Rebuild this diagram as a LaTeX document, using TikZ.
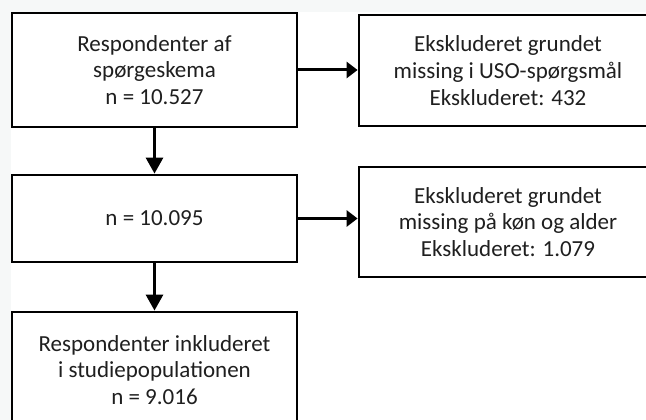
\documentclass[tikz,border=0pt]{standalone}
\usepackage{fontspec}
\setmainfont{Carlito}
\usetikzlibrary{arrows.meta}
\definecolor{bggray}{RGB}{246,248,248}

\begin{document}
\begin{tikzpicture}[
        x=1pt, y=-1pt,
        box/.style={draw, line width=2.8pt, fill=white, align=center,
          inner sep=0pt, text=black!88,
          font=\fontsize{23}{26.7}\selectfont},
        down/.style={line width=3pt, -{Triangle[length=16pt,width=17pt]}},
        side/.style={line width=3pt, -{Triangle[length=11pt,width=16pt]}}
      ]
        \clip (0,0) rectangle (646,420);
        \fill[bggray] (0,0) rectangle (646,420);
        \fill[white] (11,12) rectangle (646,420);

        \node[box, minimum width=285pt, minimum height=114pt] (resp) at (154.5,70)
          {Respondenter af\\spørgeskema\\n = 10.527};
        \node[box, minimum width=298pt, minimum height=111pt] (excl1) at (508,70.5)
          {Ekskluderet grundet\\missing i USO-spørgsmål\\Ekskluderet: 432};
        \node[box, minimum width=285pt, minimum height=87pt] (n2) at (154.5,218.5)
          {n = 10.095};
        \node[box, minimum width=298pt, minimum height=110pt] (excl2) at (508,222)
          {Ekskluderet grundet\\missing på køn og alder\\Ekskluderet: 1.079};
        \node[box, minimum width=285pt, minimum height=116pt] (incl) at (154.5,370)
          {Respondenter inkluderet\\i studiepopulationen\\n = 9.016};

        \draw[down] (resp) -- (n2);
        \draw[down] (n2) -- (incl);
        \draw[side] (resp.east) -- (resp.east -| excl1.west);
        \draw[side] (n2.east) -- (n2.east -| excl2.west);
      \end{tikzpicture}
\end{document}
